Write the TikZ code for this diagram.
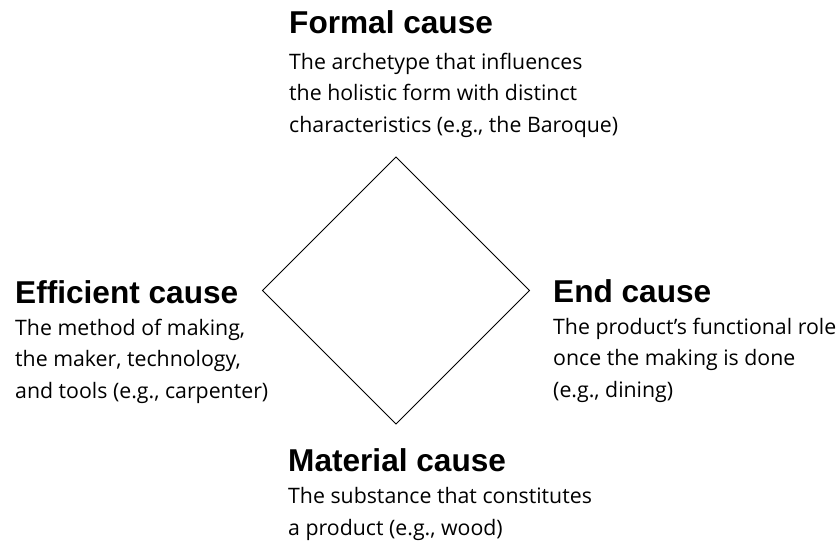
\documentclass[tikz,border=0pt]{standalone}
\usepackage{fontspec}
\usetikzlibrary{positioning}
\newfontfamily\headfont{Liberation Sans}
\newfontfamily\bodyfont{Open Sans}
\tikzset{
  causetitle/.style={font=\headfont\bfseries\fontsize{31.6}{36}\selectfont, anchor=base west, inner sep=0},
  causetext/.style={font=\bodyfont\fontsize{21.3}{31.5}\selectfont, align=left, inner sep=0}
}
\begin{document}
\begin{tikzpicture}[x=1pt, y=-1pt]
  \useasboundingbox (0,0) rectangle (840,542);
  % the four causes
  \coordinate (top) at (396,157);
  \coordinate (right) at (529.5,290.5);
  \coordinate (bottom) at (396,424);
  \coordinate (left) at (262.5,290.5);
  \draw[line width=0.8pt, line join=miter] (top) -- (right) -- (bottom) -- (left) -- cycle;
  % formal (base of the text is its last line)
  \node[causetitle] (formal) at (289,33) {Formal cause};
  \node[causetext, below=99pt of formal.base west, anchor=base west] (formaltext)
    {The archetype that influences\\the holistic form with distinct\\characteristics (e.g., the Baroque)};
  % efficient
  \node[causetitle] (efficient) at (15,303) {Efficient cause};
  \node[causetext, below=95pt of efficient.base west, anchor=base west] (efficienttext)
    {The method of making,\\the maker, technology,\\and tools (e.g., carpenter)};
  % end
  \node[causetitle] (end) at (553,302) {End cause};
  \node[causetext, below=95pt of end.base west, anchor=base west] (endtext)
    {The product’s functional role\\once the making is done\\(e.g., dining)};
  % material
  \node[causetitle] (material) at (288,471) {Material cause};
  \node[causetext, below=64pt of material.base west, anchor=base west] (materialtext)
    {The substance that constitutes\\a product (e.g., wood)};
\end{tikzpicture}
\end{document}
